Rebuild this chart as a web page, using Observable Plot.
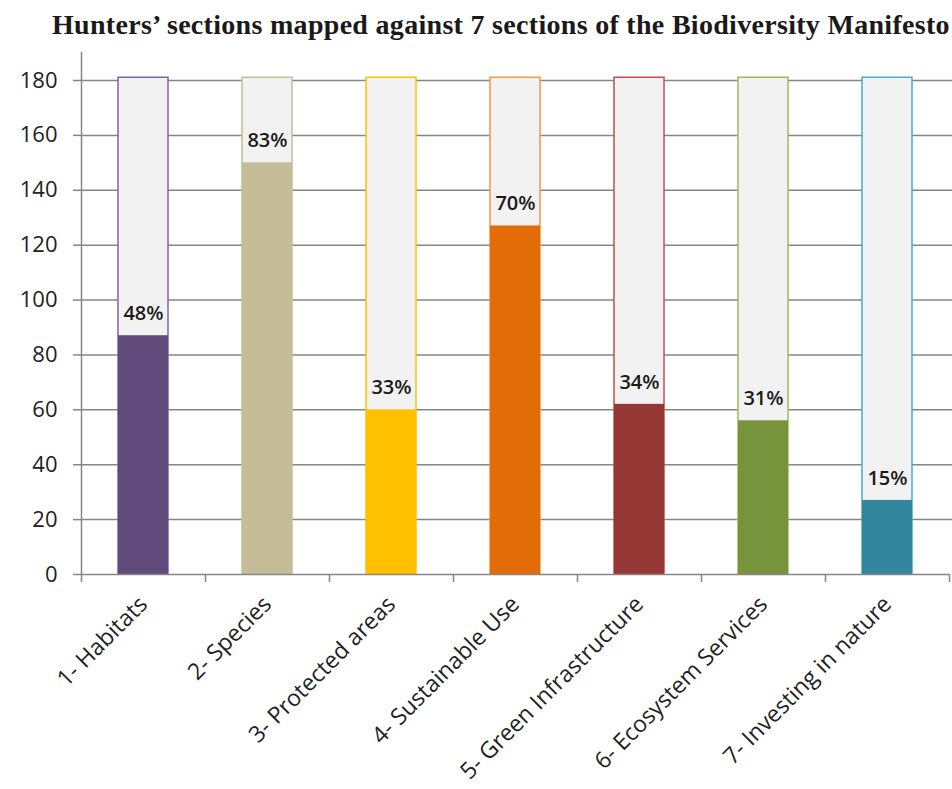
<!DOCTYPE html>
<html><head><meta charset="utf-8">
<script src="https://cdn.jsdelivr.net/npm/d3@7"></script>
<script src="https://cdn.jsdelivr.net/npm/@observablehq/plot@0.6"></script>
<style>
body{margin:0;background:#fff;width:952px;height:789px;overflow:hidden}
#title{position:relative;height:52px;font-family:"Liberation Serif",serif;font-weight:bold;font-size:28px;letter-spacing:0.3px;line-height:32px;white-space:nowrap;overflow:hidden;color:#1a1a1a}
#title span{position:absolute;left:52px;top:9px;}
#chart svg{display:block}
</style></head><body>
<div id="title"><span>Hunters’ sections mapped against 7 sections of the Biodiversity Manifesto</span></div>
<div id="chart"></div>
<script>
const categories = ["1- Habitats","2- Species","3- Protected areas","4- Sustainable Use","5- Green Infrastructure","6- Ecosystem Services","7- Investing in nature"];
const values = [87, 150, 60, 127, 62, 56, 27];
const percents = ["48%","83%","33%","70%","34%","31%","15%"];
const totalSections = 181;
const fillColors = ["#604a7b","#c4bd97","#ffc000","#e36c09","#953735","#77933c","#31859c"];
const strokeColors = ["#8064a2","#c4bd97","#ffc000","#f79646","#c0504d","#9bbb59","#4bacc6"];
const yTicks = [0,20,40,60,80,100,120,140,160,180];

const data = categories.map((c,i)=>({category:c, value:values[i], pct:percents[i], total:totalSections, fill:fillColors[i], stroke:strokeColors[i]}));

const W = 952, H = 737, mL = 81, mR = 3, mT = 28, mB = 215;
const step = (W - mL - mR) / categories.length;
const gray = "#868686";

const chart = Plot.plot({
  width: W, height: H, marginTop: mT, marginBottom: mB, marginLeft: mL, marginRight: mR,
  style: {fontFamily: "'Open Sans', sans-serif", fontSize: "22px", color: "#222", background: "#fff"},
  x: {domain: categories, paddingInner: 0.6, paddingOuter: 0.3, label: null},
  y: {domain: [0, 180], label: null},
  marks: [
    Plot.ruleY(yTicks.slice(1), {stroke: gray, strokeWidth: 1.5, insetRight: -3}),
    Plot.barY(data, {x: "category", y: "total", fill: "#f2f2f2", stroke: "stroke", strokeWidth: 1.5}),
    Plot.barY(data, {x: "category", y: "value", fill: "fill"}),
    Plot.text(data, {x: "category", y: "value", text: "pct", dy: -22, fontWeight: 600, fontSize: 20, fill: "#1a1a1a"}),
    Plot.ruleY([0], {stroke: gray, strokeWidth: 1.5}),
    Plot.ruleX([categories[0]], {dx: -step / 2, stroke: gray, strokeWidth: 1.5, insetTop: -mT}),
    Plot.axisY({ticks: yTicks, tickSize: 8, tickPadding: 16, stroke: gray, strokeWidth: 1.5, fontSize: 22, fill: "#222"}),
    Plot.axisX({tickSize: 8, tickFormat: () => "", dx: -step / 2, stroke: gray, strokeWidth: 1.5}),
    Plot.axisX([categories[categories.length - 1]], {tickSize: 8, tickFormat: () => "", dx: step / 2, stroke: gray, strokeWidth: 1.5}),
    Plot.axisX({tickSize: 0, tickRotate: -45, tickPadding: 26, fontSize: 23, fill: "#222"})
  ]
});
document.getElementById("chart").appendChild(chart);
</script>
</body></html>
